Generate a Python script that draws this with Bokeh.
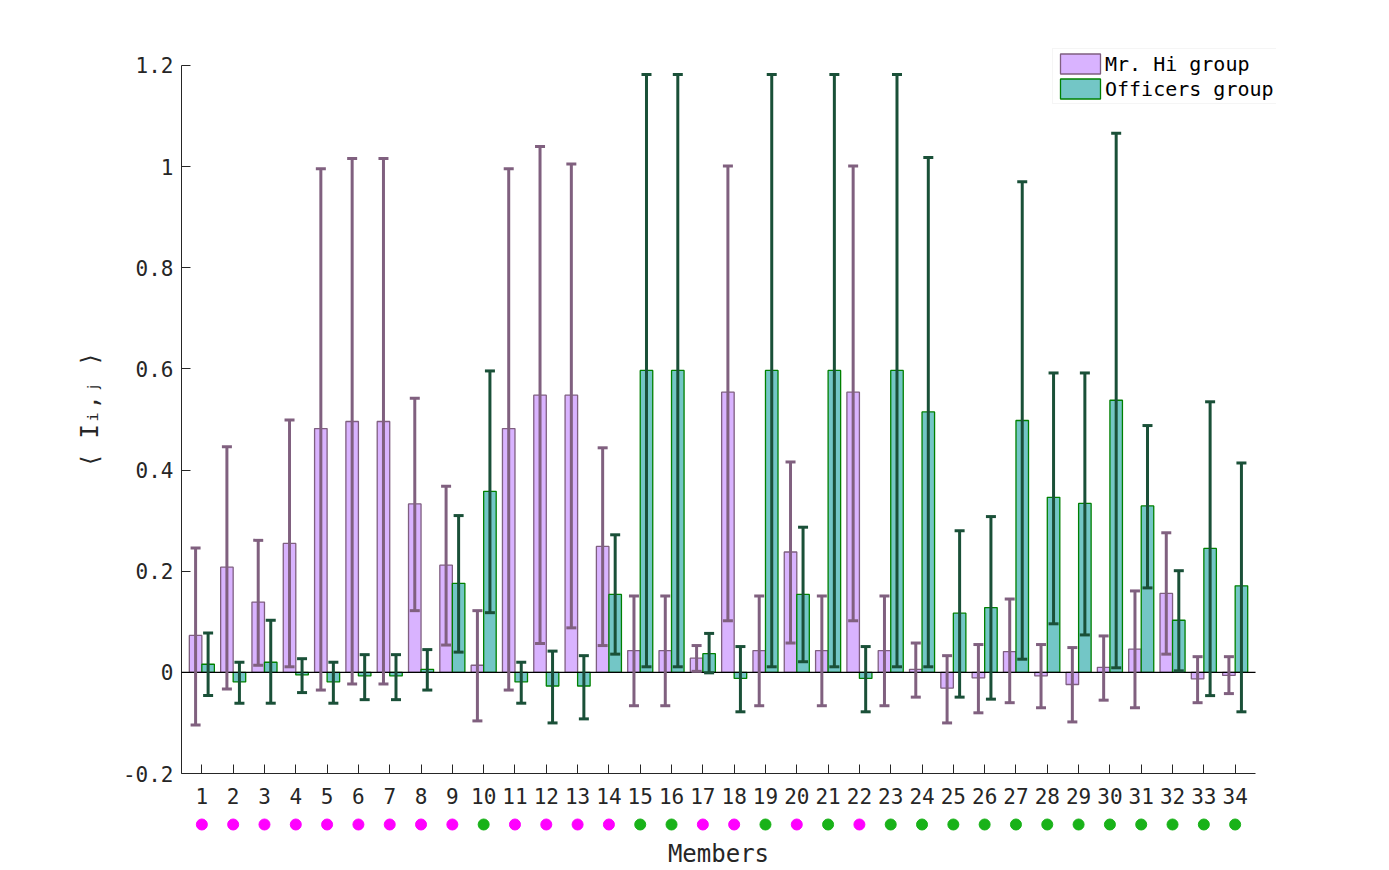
from bokeh.plotting import figure
from bokeh.models import (ColumnDataSource, Whisker, TeeHead, Range1d, FixedTicker,
                          Legend, LegendItem)
from bokeh.layouts import column
from bokeh.embed import file_html
from bokeh.resources import INLINE

members = list(range(1, 35))

hi_mean = [0.073, 0.208, 0.139, 0.255, 0.482, 0.496, 0.496, 0.333, 0.212, 0.014,
           0.482, 0.548, 0.548, 0.249, 0.043, 0.043, 0.028, 0.554, 0.043, 0.238,
           0.043, 0.554, 0.043, 0.006, -0.031, -0.011, 0.041, -0.007, -0.024, 0.010,
           0.046, 0.156, -0.013, -0.006]
hi_upper = [0.246, 0.446, 0.261, 0.499, 0.996, 1.016, 1.016, 0.542, 0.368, 0.122,
            0.996, 1.040, 1.005, 0.444, 0.151, 0.151, 0.053, 1.001, 0.151, 0.416,
            0.151, 1.001, 0.151, 0.058, 0.033, 0.055, 0.145, 0.055, 0.049, 0.072,
            0.161, 0.276, 0.031, 0.031]
hi_lower = [-0.104, -0.033, 0.014, 0.011, -0.035, -0.023, -0.023, 0.122, 0.054, -0.096,
            -0.035, 0.057, 0.088, 0.053, -0.066, -0.066, 0.002, 0.102, -0.066, 0.058,
            -0.066, 0.102, -0.066, -0.049, -0.100, -0.080, -0.060, -0.070, -0.098, -0.055,
            -0.070, 0.036, -0.060, -0.042]

off_mean = [0.016, -0.019, 0.020, -0.005, -0.019, -0.007, -0.007, 0.006, 0.176, 0.358,
            -0.019, -0.027, -0.027, 0.154, 0.597, 0.597, 0.037, -0.012, 0.597, 0.154,
            0.597, -0.012, 0.597, 0.515, 0.117, 0.128, 0.498, 0.346, 0.334, 0.538,
            0.329, 0.103, 0.245, 0.171]
off_upper = [0.078, 0.020, 0.103, 0.027, 0.020, 0.035, 0.035, 0.045, 0.310, 0.596,
             0.020, 0.042, 0.033, 0.272, 1.182, 1.182, 0.077, 0.051, 1.182, 0.287,
             1.182, 0.051, 1.182, 1.018, 0.280, 0.308, 0.970, 0.592, 0.592, 1.066,
             0.488, 0.201, 0.535, 0.414]
off_lower = [-0.046, -0.061, -0.061, -0.040, -0.061, -0.054, -0.054, -0.035, 0.040, 0.118,
             -0.061, -0.100, -0.092, 0.036, 0.011, 0.011, -0.001, -0.078, 0.011, 0.021,
             0.011, -0.078, 0.011, 0.011, -0.049, -0.053, 0.026, 0.096, 0.074, 0.009,
             0.167, 0.003, -0.046, -0.078]

# faction of each member (dots under the axis)
faction = ["hi", "hi", "hi", "hi", "hi", "hi", "hi", "hi", "hi", "off",
           "hi", "hi", "hi", "hi", "off", "off", "hi", "hi", "off", "hi",
           "off", "hi", "off", "off", "off", "off", "off", "off", "off", "off",
           "off", "off", "off", "off"]

y_ticks = [-0.2, 0, 0.2, 0.4, 0.6, 0.8, 1, 1.2]
y_tick_labels = ["-0.2", "0", "0.2", "0.4", "0.6", "0.8", "1", "1.2"]
legend_labels = ["Mr. Hi group", "Officers group"]

FONT = "DejaVu Sans Mono"
TXT = "#262626"
HI_FILL, HI_EDGE, HI_ERR = "#D9B3FF", "#7F5F80", "#80607F"
OFF_FILL, OFF_EDGE, OFF_ERR = "#73C6C6", "#008000", "#1A5038"
DOT_HI, DOT_OFF = "#FF00FF", "#19B219"

off = 0.2
bw = 0.4
src_hi = ColumnDataSource(dict(x=[m - off for m in members], top=hi_mean,
                               up=hi_upper, lo=hi_lower))
src_off = ColumnDataSource(dict(x=[m + off for m in members], top=off_mean,
                                up=off_upper, lo=off_lower))

# frame is slightly larger than the axes box so the legend can overhang it
p = figure(frame_width=1095, frame_height=728, x_range=Range1d(0.35, 35.32),
           y_range=Range1d(-0.2, 1.2395),
           output_backend="svg", toolbar_location=None,
           min_border_left=181, min_border_right=100, min_border_top=45, min_border_bottom=40)
p.outline_line_color = None
p.grid.visible = False
p.background_fill_color = "white"
p.border_fill_color = "white"

r_hi = p.vbar(x="x", top="top", bottom=0, width=bw, source=src_hi,
              fill_color=HI_FILL, line_color=HI_EDGE, line_width=1.3)
r_off = p.vbar(x="x", top="top", bottom=0, width=bw, source=src_off,
               fill_color=OFF_FILL, line_color=OFF_EDGE, line_width=1.3)

for src, col in ((src_hi, HI_ERR), (src_off, OFF_ERR)):
    w = Whisker(base="x", upper="up", lower="lo", source=src, line_color=col, line_width=3,
                upper_head=TeeHead(size=10, line_color=col, line_width=3),
                lower_head=TeeHead(size=10, line_color=col, line_width=3),
                level="annotation")
    p.add_layout(w)

# axes
p.xaxis.ticker = FixedTicker(ticks=members)
p.yaxis.ticker = FixedTicker(ticks=y_ticks)
p.yaxis.major_label_overrides = {t: l for t, l in zip(y_ticks, y_tick_labels)}
p.xaxis.bounds = (0.35, 34.65)
p.yaxis.bounds = (-0.2, 1.2)
for ax in (p.xaxis[0], p.yaxis[0]):
    ax.major_tick_in = 9
    ax.major_tick_out = 0
    ax.minor_tick_line_color = None
    ax.axis_line_color = TXT
    ax.major_tick_line_color = TXT
    ax.major_label_text_font = FONT
    ax.major_label_text_font_size = "21px"
    ax.major_label_text_color = TXT
    ax.axis_label_text_font = FONT
    ax.axis_label_text_font_style = "normal"
    ax.axis_label_text_color = TXT
p.xaxis.major_label_standoff = 14
p.yaxis.major_label_standoff = 8
p.yaxis.axis_label = "⟨ Iᵢ,ⱼ ⟩"
p.yaxis.axis_label_text_font_size = "24px"
p.yaxis.axis_label_standoff = 16

# zero baseline across the axes box only
p.segment(x0=[0.35], y0=[0], x1=[34.65], y1=[0], line_color="black", line_width=1.2,
          level="annotation")

legend = Legend(items=[LegendItem(label=legend_labels[0], renderers=[r_hi]),
                       LegendItem(label=legend_labels[1], renderers=[r_off])],
                location=(871, 669), orientation="vertical",
                glyph_width=50, glyph_height=25, label_height=25, spacing=0,
                padding=2, margin=0, label_standoff=0,
                label_text_font=FONT, label_text_font_size="20px", label_text_color="black",
                border_line_color="#EBEBEB", background_fill_color="white",
                background_fill_alpha=1.0)
p.add_layout(legend)

# strip with the faction dots and the x label (same scale as the axes box)
s = figure(frame_width=1074, frame_height=22, x_range=Range1d(0.35, 34.65),
           y_range=Range1d(0, 1),
           output_backend="svg", toolbar_location=None,
           min_border_left=181, min_border_right=121, min_border_top=0, min_border_bottom=0)
s.outline_line_color = None
s.grid.visible = False
s.yaxis.visible = False
s.background_fill_color = "white"
s.border_fill_color = "white"
dot_colors = [DOT_HI if f == "hi" else DOT_OFF for f in faction]
s.scatter(x=members, y=[0.5] * len(members), size=11, marker="circle",
          fill_color=dot_colors, line_color=dot_colors)
s.xaxis.ticker = FixedTicker(ticks=[])
s.xaxis.axis_label = "Members"
s.xaxis.axis_label_text_font = FONT
s.xaxis.axis_label_text_font_style = "normal"
s.xaxis.axis_label_text_font_size = "24px"
s.xaxis.axis_label_text_color = TXT
s.xaxis.axis_label_standoff = 4
s.xaxis.axis_line_color = None
s.xaxis.major_tick_line_color = None
s.xaxis.minor_tick_line_color = None
s.xaxis.major_label_standoff = 0
s.xaxis.major_tick_in = 0
s.xaxis.major_tick_out = 0

layout = column(p, s, spacing=0)
open("out.html", "w").write(file_html(layout, INLINE))
